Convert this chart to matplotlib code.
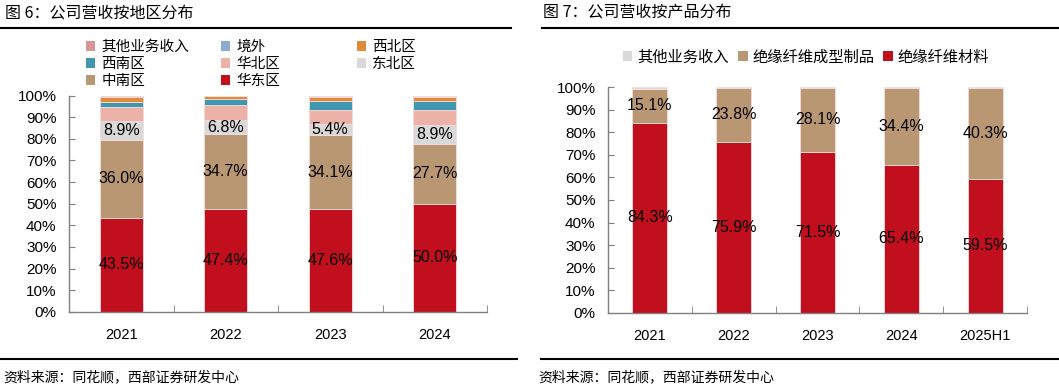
import matplotlib
matplotlib.use("Agg")
import matplotlib.pyplot as plt
from matplotlib.patches import Patch
from matplotlib.lines import Line2D
from matplotlib import font_manager
import numpy as np

plt.rcParams['font.family'] = ['Noto Sans CJK SC', 'DejaVu Sans']

# ---------------- data ----------------
years_region = ['2021', '2022', '2023', '2024']
region_names = ['华东区', '中南区', '东北区', '华北区', '西南区', '西北区', '境外', '其他业务收入']
east_china = [43.5, 47.4, 47.6, 50.0]
central_south = [36.0, 34.7, 34.1, 27.7]
northeast = [8.9, 6.8, 5.4, 8.9]
north_china = [6.5, 6.6, 6.2, 6.6]
southwest = [2.3, 3.0, 4.2, 4.5]
northwest = [2.3, 1.2, 2.0, 1.7]
overseas = [0.0, 0.0, 0.2, 0.4]
other_region = [0.5, 0.3, 0.3, 0.2]
region_colors = ['#C10F1E', '#B99772', '#D9D9D9', '#ECB2A8', '#3F98AF', '#E08A3C', '#8FAAD0', '#D69596']
region_labeled = [True, True, True, False, False, False, False, False]

years_prod = ['2021', '2022', '2023', '2024', '2025H1']
prod_names = ['绝缘纤维材料', '绝缘纤维成型制品', '其他业务收入']
fiber_material = [84.3, 75.9, 71.5, 65.4, 59.5]
fiber_products = [15.1, 23.8, 28.1, 34.4, 40.3]
other_prod = [0.6, 0.3, 0.4, 0.2, 0.2]
prod_colors = ['#C10F1E', '#B99772', '#D9D9D9']
prod_labeled = [True, True, False]

W, H = 1059, 389
fig = plt.figure(figsize=(W / 100, H / 100), dpi=100)

names = {f.name for f in font_manager.fontManager.ttflist}
narrow = 'Liberation Sans Narrow' if 'Liberation Sans Narrow' in names else 'Liberation Sans'


def px_axes(x0, y0, x1, y1):
    return fig.add_axes([x0 / W, 1 - y1 / H, (x1 - x0) / W, (y1 - y0) / H])


def style_axes(ax, cats):
    n = len(cats)
    ax.set_xlim(-0.5, n - 0.5)
    ax.set_ylim(0, 100)
    for s in ['top', 'right']:
        ax.spines[s].set_visible(False)
    for s in ['left', 'bottom']:
        ax.spines[s].set_color('#808080')
        ax.spines[s].set_linewidth(1.0)
    ax.set_yticks(np.arange(0, 101, 10))
    ax.set_yticklabels([f'{v}%' for v in range(0, 101, 10)],
                       fontfamily='Liberation Sans', fontsize=11)
    ax.tick_params(axis='y', direction='in', length=4, color='#808080', pad=9)
    ax.set_xticks(np.arange(n))
    ax.set_xticklabels(cats, fontfamily=narrow, fontsize=10.5)
    ax.tick_params(axis='x', which='major', length=0, pad=12)
    ax.set_xticks(np.arange(n + 1) - 0.5, minor=True)
    ax.tick_params(axis='x', which='minor', direction='in', length=5, color='#808080')
    ax.patch.set_alpha(0)


def stacked(ax, cats, series, colors, labeled, width):
    x = np.arange(len(cats))
    bottom = np.zeros(len(cats))
    handles = []
    for vals, c, lab in zip(series, colors, labeled):
        vals = np.array(vals, dtype=float)
        ax.bar(x, vals, width, bottom=bottom, color=c,
               edgecolor='#F4DCDC', linewidth=0.6)
        if lab:
            for xi, b, v in zip(x, bottom, vals):
                ax.text(xi, b + v / 2, f'{v:.1f}%', ha='center', va='center',
                        fontsize=11.5, fontfamily='Liberation Sans', color='#000000')
        handles.append(Patch(facecolor=c, edgecolor='none'))
        bottom = bottom + vals
    return handles


# ---------------- left chart ----------------
ax1 = px_axes(69, 95.7, 487, 311.7)
region_series = [east_china, central_south, northeast, north_china,
                 southwest, northwest, overseas, other_region]
h1 = stacked(ax1, years_region, region_series, region_colors, region_labeled, 0.41)
style_axes(ax1, years_region)

hmap = dict(zip(region_names, h1))
columns = [['其他业务收入', '西南区', '中南区'],
           ['境外', '华北区', '华东区'],
           ['西北区', '东北区']]
col_x = [86, 221, 357]
for cx, col in zip(col_x, columns):
    fig.legend([hmap[n] for n in col], col, loc='upper left',
               bbox_to_anchor=(cx / W, 1 - 40 / H), frameon=False,
               fontsize=10.5, handlelength=0.65, handleheight=0.65,
               handletextpad=0.4, labelspacing=0.2, borderpad=0,
               borderaxespad=0)

# ---------------- right chart ----------------
ax2 = px_axes(608, 87.3, 1027, 312.7)
prod_series = [fiber_material, fiber_products, other_prod]
h2 = stacked(ax2, years_prod, prod_series, prod_colors, prod_labeled, 0.42)
style_axes(ax2, years_prod)
order = [2, 1, 0]
fig.legend([h2[i] for i in order], [prod_names[i] for i in order],
           loc='center', bbox_to_anchor=(806 / W, 1 - 57 / H), ncol=3,
           frameon=False, fontsize=11, handlelength=0.65, handleheight=0.65,
           handletextpad=0.3, columnspacing=0.6, borderpad=0)

# ---------------- titles, rules, sources ----------------
fig.text(5 / W, 1 - 13 / H, '图 6：公司营收按地区分布', fontsize=11.5,
         ha='left', va='center', color='#000000')
fig.text(543 / W, 1 - 13 / H, '图 7：公司营收按产品分布', fontsize=11.5,
         ha='left', va='center', color='#000000')
for x0, x1 in [(1, 511), (542, 1059)]:
    fig.add_artist(Line2D([x0 / W, x1 / W], [1 - 27.5 / H] * 2, color='black', lw=1.5))
for x0, x1 in [(0, 517), (541, 1059)]:
    fig.add_artist(Line2D([x0 / W, x1 / W], [1 - 359 / H] * 2, color='black', lw=1.5))
fig.text(3 / W, 1 - 377 / H, '资料来源：同花顺，西部证券研发中心', fontsize=10,
         ha='left', va='center', color='#000000')
fig.text(538 / W, 1 - 377 / H, '资料来源：同花顺，西部证券研发中心', fontsize=10,
         ha='left', va='center', color='#000000')

fig.savefig('out.png', dpi=100)
